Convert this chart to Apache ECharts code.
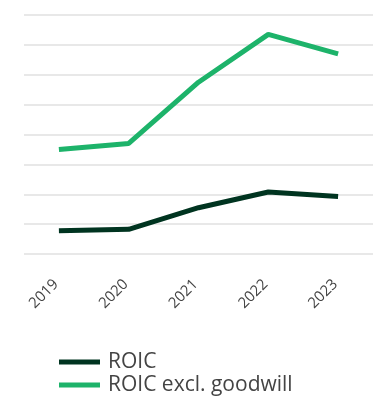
<!DOCTYPE html>
<html>
<head>
<meta charset="utf-8">
<script src="https://cdn.jsdelivr.net/npm/echarts@6/dist/echarts.min.js"></script>
<style>
  html, body { margin: 0; padding: 0; background: #fff; }
  #chart { width: 373px; height: 396px; }
</style>
</head>
<body>
<div id="chart"></div>
<script>
// Return on invested capital, %, by year
const years = ['2019', '2020', '2021', '2022', '2023'];
const roic = [1.55, 1.65, 3.1, 4.15, 3.85];
const roicExclGoodwill = [7.0, 7.4, 11.5, 14.7, 13.4];
const seriesNames = ['ROIC', 'ROIC excl. goodwill'];
const colors = ['#003420', '#1db36a'];

const chart = echarts.init(document.getElementById('chart'), null, { renderer: 'canvas' });
chart.setOption({
  animation: false,
  color: colors,
  grid: { left: 24, right: 0, top: 15, bottom: 142, containLabel: false },
  legend: {
    orient: 'vertical',
    left: 59,
    top: 351,
    padding: 0,
    itemWidth: 41,
    itemHeight: 5,
    itemGap: 1,
    icon: 'rect',
    textStyle: { fontFamily: 'Open Sans', fontSize: 21, lineHeight: 22, color: '#444', padding: [0, 0, 0, 3] },
    data: seriesNames
  },
  xAxis: {
    type: 'category',
    data: years,
    boundaryGap: true,
    axisLine: { show: false },
    axisTick: { show: false },
    axisLabel: {
      rotate: 45,
      margin: 25,
      fontFamily: 'Open Sans',
      fontSize: 15,
      color: '#444',
      padding: [0, 4, 0, 0]
    }
  },
  yAxis: {
    type: 'value',
    min: 0,
    max: 16,
    interval: 2,
    axisLabel: { show: false },
    axisLine: { show: false },
    axisTick: { show: false },
    splitLine: { lineStyle: { color: '#e8e8e8', width: 2 } }
  },
  series: [
    {
      name: seriesNames[0],
      type: 'line',
      data: roic,
      symbol: 'none',
      lineStyle: { width: 5, color: colors[0] }
    },
    {
      name: seriesNames[1],
      type: 'line',
      data: roicExclGoodwill,
      symbol: 'none',
      lineStyle: { width: 5, color: colors[1] }
    }
  ]
});
</script>
</body>
</html>
